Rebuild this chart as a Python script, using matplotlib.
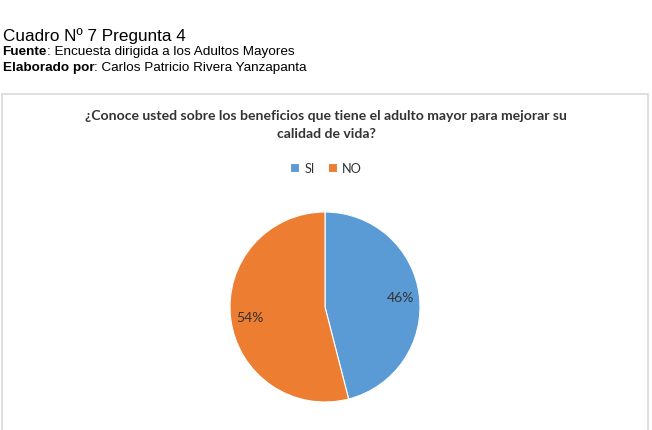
import matplotlib.pyplot as plt
from matplotlib.patches import Rectangle

labels = ["SI", "NO"]
values = [46, 54]
colors = ["#5B9BD5", "#ED7D31"]

title = "¿Conoce usted sobre los beneficios que tiene el adulto mayor para mejorar su\ncalidad de vida?"
header = "Cuadro Nº 7 Pregunta 4"
source = [("Fuente", ": Encuesta dirigida a los Adultos Mayores"),
          ("Elaborado por", ": Carlos Patricio Rivera Yanzapanta")]

fig = plt.figure(figsize=(6.52, 4.31), dpi=100)
fig.patch.set_facecolor("white")
renderer = fig.canvas.get_renderer()

# header text above the chart box
fig.text(0.004, 1 - 36/431, header, fontsize=12.3, family="Liberation Sans", va="center")
for i, (bold, rest) in enumerate(source):
    y = 1 - (52 + 16*i)/431
    t = fig.text(0.004, y, bold, fontsize=9.7, family="Liberation Sans", fontweight="bold", va="center")
    w = t.get_window_extent(renderer).width / fig.bbox.width
    fig.text(0.004 + w, y, rest, fontsize=9.7, family="Liberation Sans", va="center")

# chart frame
fig.patches.append(Rectangle((2/652, -0.01), 646/652, 1 - 95/431 + 0.01, transform=fig.transFigure,
                             facecolor="white", edgecolor="#d9d9d9", linewidth=1.2, zorder=-1))

fig.text(0.5, 1 - 125/431, title, ha="center", va="center", fontsize=10.1, fontweight="bold",
         family="Lato", color="#333333", linespacing=1.55)

ax = fig.add_axes([230/652, 28/431, 190/652, 190/431])
wedges, texts, autotexts = ax.pie(values, colors=colors, startangle=90, counterclock=False,
                                  autopct="%d%%", pctdistance=0.8,
                                  wedgeprops=dict(edgecolor="white", linewidth=0.8),
                                  textprops=dict(fontsize=10, family="Lato", color="#333333"))
ax.set_xlim(-1, 1)
ax.set_ylim(-1, 1)
ax.set_aspect("equal")

leg = fig.legend(wedges, labels, loc="center", bbox_to_anchor=(0.5, 1 - 169/431), ncol=2, frameon=False,
                 prop=dict(family="Lato", size=9.2), handlelength=0.7, handleheight=0.7,
                 handletextpad=0.4, columnspacing=1.0)
for t in leg.get_texts():
    t.set_color("#333333")

fig.savefig("out.png", dpi=100)
